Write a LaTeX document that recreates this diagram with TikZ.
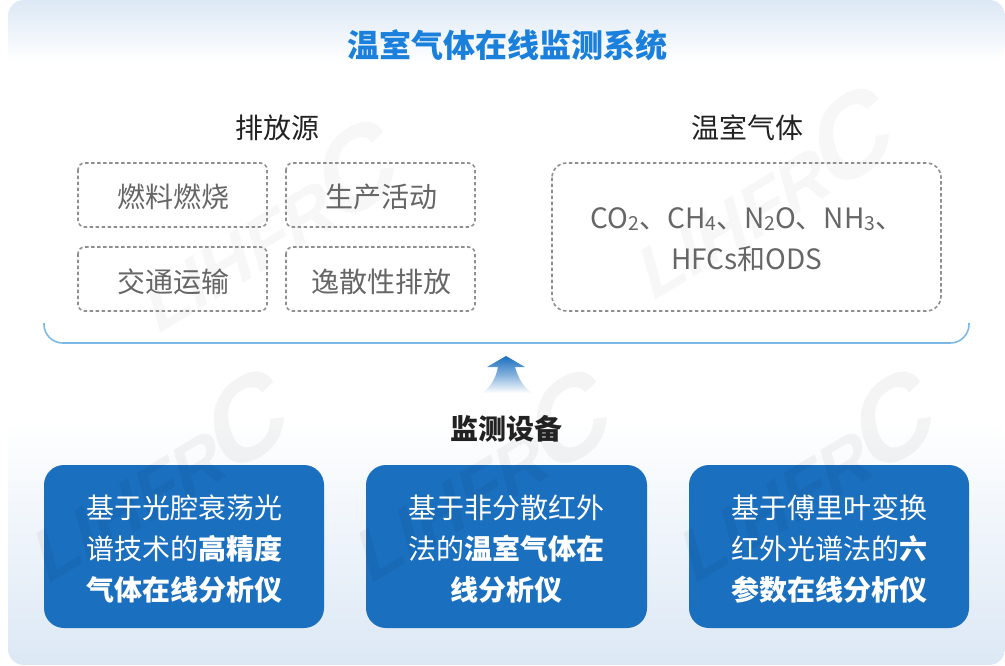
\documentclass[tikz,border=0pt]{standalone}
\usepackage{fontspec}
\setmainfont{Noto Sans CJK SC}
\newfontfamily\markfont[FakeSlant=.28]{Liberation Sans Bold}
\newcommand{\gassub}[1]{\raisebox{-1pt}{\fontsize{14.5}{14.5}\selectfont #1}}
\newcommand{\marktext}{LIHFR\kern-4pt{\fontsize{84}{84}\selectfont C}}
\definecolor{titleblue}{HTML}{1A80DC}
\definecolor{boxblue}{HTML}{1B6FBF}
\definecolor{bandblue}{HTML}{DCE8F5}
\definecolor{bracketblue}{HTML}{7DB9E8}
\definecolor{dashgray}{HTML}{8F8F8F}
\definecolor{textgray}{HTML}{666666}
\definecolor{headblack}{HTML}{222222}
\tikzset{
  sourcebox/.style={draw=dashgray,line width=1.2pt,dash pattern=on 2.6pt off 1.9pt,rounded corners=5pt},
  devicebox/.style={fill=boxblue,rounded corners=15pt},
  boxtext/.style={text=textgray,font=\fontsize{21}{21}\selectfont,inner sep=0pt},
  headtext/.style={text=headblack,font=\fontsize{21}{21}\selectfont,inner sep=0pt},
  devicetext/.style={text=white,align=center,inner sep=0pt,font=\fontsize{21}{30.75}\selectfont},
  watermark/.style={text=black,opacity=.03,rotate=31,inner sep=0pt,font=\markfont\fontsize{54}{54}\selectfont}
}
\begin{document}
\begin{tikzpicture}[x=.75pt,y=-.75pt]
\useasboundingbox (0,0) rectangle (1005,665);
\shade[top color=bandblue,bottom color=white,rounded corners=12pt] (8,62) -- (8,0) -- (1005,0) -- (1005,62) [sharp corners] -- cycle;
\shade[top color=white,bottom color=bandblue,rounded corners=12pt] (8,420) -- (8,665) -- (1005,665) -- (1005,420) [sharp corners] -- cycle;
\node[watermark] (markone) at (260,228) {\marktext};
\node[watermark] (marktwo) at (755,195) {\marktext};
\path[devicebox] (44,465) rectangle (324,628);
\path[devicebox] (366,465) rectangle (647,628);
\path[devicebox] (689,465) rectangle (969,628);
\node[watermark,opacity=.045] (markthree) at (150,478) {\marktext};
\node[watermark,opacity=.045] (markfour) at (473,478) {\marktext};
\node[watermark,opacity=.045] (markfive) at (797,478) {\marktext};
\node[text=titleblue,inner sep=0pt,font=\fontsize{24}{24}\selectfont\bfseries] (title) at (507,45) {温室气体在线监测系统};
\node[headtext] (sourcehead) at (277,128) {排放源};
\node[headtext] (gashead) at (747,128) {温室气体};
\path[sourcebox] (78,163) rectangle (267,227);
\node[boxtext] (fuel) at (173,197) {燃料燃烧};
\path[sourcebox] (286,163) rectangle (475,227);
\node[boxtext] (production) at (381,197) {生产活动};
\path[sourcebox] (78,247) rectangle (267,311);
\node[boxtext] (traffic) at (173,282) {交通运输};
\path[sourcebox] (286,247) rectangle (475,311);
\node[boxtext] (fugitive) at (381,282) {逸散性排放};
\path[sourcebox,rounded corners=11pt] (552,163) rectangle (941,311);
\node[boxtext,align=center,font=\fontsize{21}{30.75}\selectfont] (gases) at (747,240) {CO\gassub{2}、CH\gassub{4}、N\gassub{2}O、NH\gassub{3}、\\HFCs和ODS};
\draw[bracketblue,line width=1.2pt,rounded corners=14pt] (44,323) -- (44,343) -- (969,343) -- (969,323);
\shade[top color=boxblue,bottom color=white,middle color=boxblue!55] (506,356) -- (525,367) -- (515,367) .. controls (518,378) and (524,388) .. (532,393) -- (482,393) .. controls (490,388) and (496,378) .. (498,367) -- (487,367) -- cycle;
\node[headtext,font=\fontsize{21}{21}\selectfont\bfseries] (devicehead) at (506.5,429) {监测设备};
\node[devicetext] (deviceone) at (184,549) {基于光腔衰荡光\\谱技术的\textbf{高精度}\\\textbf{气体在线分析仪}};
\node[devicetext] (devicetwo) at (506.5,549) {基于非分散红外\\法的\textbf{温室气体在}\\\textbf{线分析仪}};
\node[devicetext] (devicethree) at (829,549) {基于傅里叶变换\\红外光谱法的\textbf{六}\\\textbf{参数在线分析仪}};
\end{tikzpicture}
\end{document}
